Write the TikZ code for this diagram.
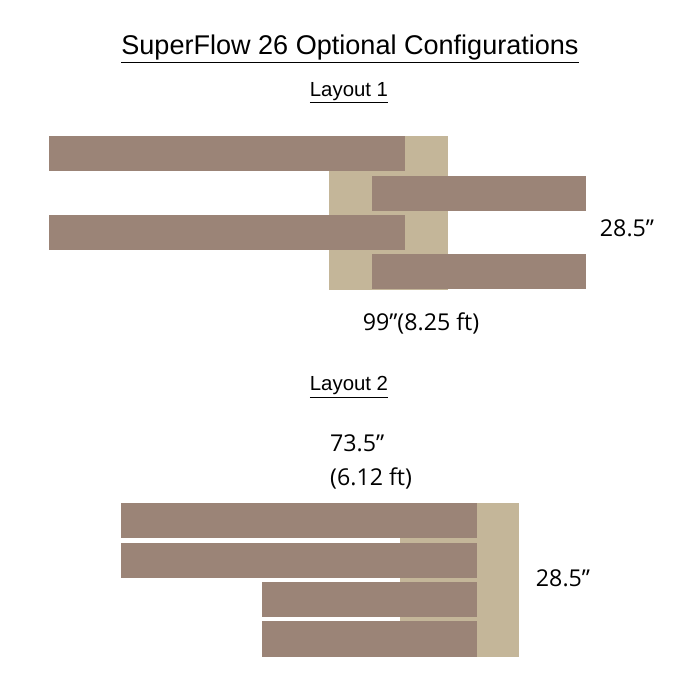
\documentclass[tikz,border=0pt]{standalone}
\usepackage{xcolor}
\usepackage{tikz}
\usepackage{fontspec}
\setmainfont{Liberation Sans}
\newfontfamily\dimfont{Open Sans}
\definecolor{benchbrown}{RGB}{155,132,119}
\definecolor{cornerbeige}{RGB}{196,182,153}

\begin{document}
\begin{tikzpicture}[x=0.02cm, y=-0.02cm,
    title/.style={font=\fontsize{15.4}{18}\selectfont},
    layoutlabel/.style={font=\fontsize{11.6}{14}\selectfont},
    dimlabel/.style={font=\dimfont\fontsize{13.2}{19.3}\selectfont, align=left}]
    \useasboundingbox (0,0) rectangle (700,700);

    % heading
    \node[title] (heading) at (350,49) {\underline{SuperFlow 26 Optional Configurations}};

    % layout 1
    \node[layoutlabel] (lay1) at (349,93) {\underline{Layout 1}};
    \fill[cornerbeige] (329,136) rectangle (448,290);
    \fill[benchbrown] (49,136) rectangle (405,171);
    \fill[benchbrown] (372,176) rectangle (586,211);
    \fill[benchbrown] (49,215) rectangle (405,250);
    \fill[benchbrown] (372,254) rectangle (586,289);
    \node[dimlabel] (depth1) at (627,228) {28.5”};
    \node[dimlabel] (width1) at (421,323) {99”(8.25 ft)};

    % layout 2
    \node[layoutlabel] (lay2) at (349,387) {\underline{Layout 2}};
    \node[dimlabel, anchor=west] (width2) at (324,462) {73.5”\\(6.12 ft)};
    \fill[cornerbeige] (400,503) rectangle (519,657);
    \fill[benchbrown] (121,503) rectangle (477,538);
    \fill[benchbrown] (121,543) rectangle (477,578);
    \fill[benchbrown] (262,582) rectangle (477,617);
    \fill[benchbrown] (262,621) rectangle (477,657);
    \node[dimlabel] (depth2) at (563,578) {28.5”};
\end{tikzpicture}
\end{document}
